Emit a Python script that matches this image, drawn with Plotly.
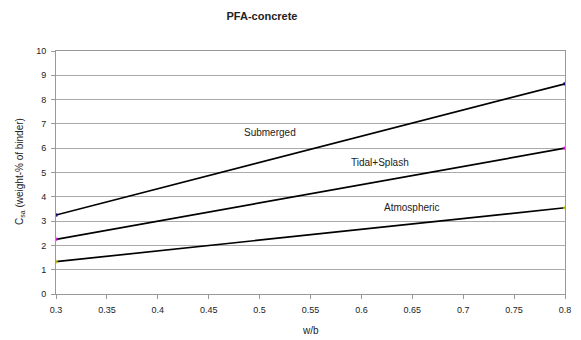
import plotly.graph_objects as go

wb = [0.3, 0.4, 0.5, 0.6, 0.7, 0.8]
submerged = [3.25, 4.33, 5.40, 6.50, 7.57, 8.65]
tidal_splash = [2.25, 3.00, 3.75, 4.50, 5.25, 6.00]
atmospheric = [1.33, 1.77, 2.22, 2.66, 3.10, 3.55]

x_ticks = [0.3, 0.35, 0.4, 0.45, 0.5, 0.55, 0.6, 0.65, 0.7, 0.75, 0.8]
x_tick_labels = ["0.3", "0.35", "0.4", "0.45", "0.5", "0.55", "0.6", "0.65", "0.7", "0.75", "0.8"]
y_ticks = list(range(0, 11))

series = [
    ("Submerged", submerged, "#000080", 0.51, 6.63),
    ("Tidal+Splash", tidal_splash, "#FF00FF", 0.618, 5.43),
    ("Atmospheric", atmospheric, "#E0E000", 0.65, 3.54),
]

W, H = 581, 340
L, R, T, B = 56, 16, 51, 46
PW, PH = W - L - R, H - T - B

def px_to_paper(px, py):
    return (px - L) / PW, (H - B - py) / PH

fig = go.Figure()
for name, vals, mcol, lx, ly in series:
    n = len(vals)
    fig.add_trace(go.Scatter(
        x=wb, y=vals, mode="lines+markers", name=name,
        line=dict(color="black", width=1.7),
        marker=dict(color=mcol, size=[4] + [0] * (n - 2) + [4], line=dict(width=0)),
        showlegend=False,
    ))
    fig.add_annotation(x=lx, y=ly, text=name, showarrow=False,
                       font=dict(size=10, color="#222", family="Liberation Sans, Arial"))

yx, yy = px_to_paper(20, 172)
fig.add_annotation(x=yx, y=yy, xref="paper", yref="paper",
                   xanchor="center", yanchor="middle", textangle=-90, showarrow=False,
                   text="C<sub>sa</sub> (weight-% of binder)",
                   font=dict(size=10, color="#222", family="Liberation Sans, Arial"))
wx, wy = px_to_paper(310, 330)
fig.add_annotation(x=wx, y=wy, xref="paper", yref="paper",
                   xanchor="center", yanchor="middle", showarrow=False,
                   text="w/b", font=dict(size=10, color="#222", family="Liberation Sans, Arial"))

fig.update_layout(
    width=W, height=H,
    margin=dict(l=L, r=R, t=T, b=B, autoexpand=False),
    paper_bgcolor="white", plot_bgcolor="white",
    font=dict(family="Liberation Sans, Arial", size=9, color="#222"),
    title=dict(text="<b>PFA-concrete</b>", x=262 / W, xanchor="center",
               y=1 - 16 / H, yanchor="middle",
               font=dict(size=11, color="#222")),
    xaxis=dict(
        range=[0.3, 0.8], tickvals=x_ticks, ticktext=x_tick_labels,
        showgrid=False, zeroline=False, automargin=False,
        showline=True, linecolor="#999", linewidth=1, mirror=True,
        ticks="outside", ticklen=4, tickcolor="#999", ticklabelstandoff=3,
    ),
    yaxis=dict(
        range=[0, 10], tickvals=y_ticks,
        showgrid=True, gridcolor="#aaa", gridwidth=1, zeroline=False, automargin=False,
        showline=True, linecolor="#999", linewidth=1, mirror=True,
        ticks="outside", ticklen=4, tickcolor="#999", ticklabelstandoff=3,
    ),
)

fig.write_html("out.html", config={"displayModeBar": False},
               post_script="document.body.style.margin='0';")
